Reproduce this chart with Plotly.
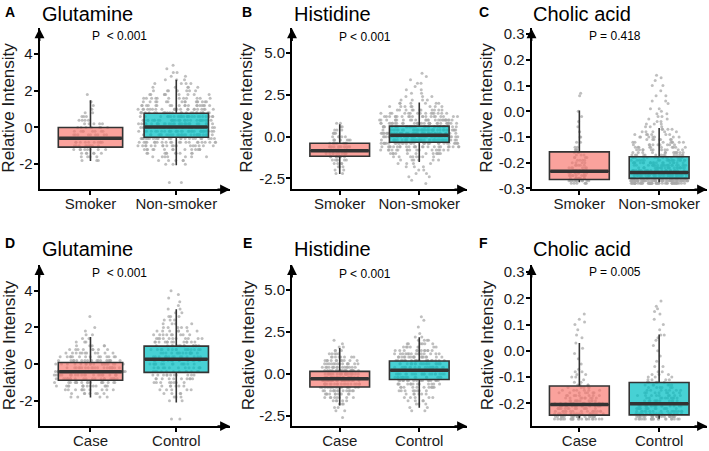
import plotly.graph_objects as go

W, H = 709, 451

# ---------------- data ----------------
titles = ["Glutamine", "Histidine", "Cholic acid", "Glutamine", "Histidine", "Cholic acid"]
letters = ["A", "B", "C", "D", "E", "F"]
pvalues = ["P\u00a0\u00a0< 0.001", "P < 0.001", "P = 0.418",
           "P\u00a0\u00a0< 0.001", "P < 0.001", "P = 0.005"]
groups_top = ["Smoker", "Non-smoker"]
groups_bottom = ["Case", "Control"]

# box statistics per panel: [group 1, group 2]
box_lower = [[-1.83, -2.06], [-2.24, -1.52], [-0.276, -0.276],
             [-1.82, -2.09], [-1.88, -2.02], [-0.257, -0.259]]
box_q1 = [[-1.07, -0.53], [-1.17, -0.33], [-0.265, -0.261],
          [-0.88, -0.45], [-0.78, -0.33], [-0.245, -0.244]]
box_median = [[-0.59, 0.02], [-0.84, 0.08], [-0.233, -0.238],
              [-0.41, 0.27], [-0.29, 0.21], [-0.205, -0.202]]
box_q3 = [[0.0, 0.78], [-0.39, 0.63], [-0.158, -0.177],
          [0.09, 0.98], [0.15, 0.77], [-0.134, -0.121]]
box_upper = [[1.49, 2.61], [0.74, 2.05], [0.003, -0.065],
             [1.48, 2.99], [1.55, 2.19], [0.03, 0.0625]]

# individual points, read as value levels with counts
a_smoker_vals = [1.8, 1.4, 1.2, 1.0, 0.8, 0.6, 0.4, 0.2, 0.0, -0.2, -0.4, -0.6, -0.8, -1.0, -1.2, -1.4, -1.6, -1.8]
a_smoker_cnts = [1, 1, 1, 1, 2, 3, 4, 5, 7, 8, 9, 10, 10, 9, 8, 6, 4, 3]
a_non_vals = [3.4, 3.2, 3.0, 2.8, 2.6, 2.4, 2.2, 2.0, 1.8, 1.6, 1.4, 1.2, 1.0, 0.8, 0.6, 0.4, 0.2, 0.0,
              -0.2, -0.4, -0.6, -0.8, -1.0, -1.2, -1.4, -1.6, -1.8, -2.0, -3.0]
a_non_cnts = [1, 1, 2, 2, 3, 4, 5, 7, 9, 12, 15, 19, 22, 25, 27, 29, 30, 31,
              30, 28, 25, 22, 18, 14, 10, 7, 5, 3, 2]

b_smoker_vals = [0.8, 0.6, 0.4, 0.2, 0.0, -0.2, -0.4, -0.6, -0.8, -1.0, -1.2, -1.4, -1.6, -1.8, -2.0, -2.2]
b_smoker_cnts = [2, 2, 3, 4, 5, 7, 9, 11, 12, 11, 9, 6, 4, 3, 2, 2]
b_non_vals = [3.8, 3.6, 3.4, 3.2, 3.0, 2.8, 2.6, 2.4, 2.2, 2.0, 1.8, 1.6, 1.4, 1.2, 1.0, 0.8, 0.6, 0.4,
              0.2, 0.0, -0.2, -0.4, -0.6, -0.8, -1.0, -1.2, -1.4, -1.6, -1.8, -2.0, -2.2, -2.4, -2.6, -2.8]
b_non_cnts = [1, 1, 1, 2, 1, 2, 2, 3, 4, 6, 8, 11, 15, 20, 25, 30, 35, 38,
              40, 42, 38, 32, 24, 17, 12, 8, 6, 4, 3, 2, 2, 2, 1, 1]

c_smoker_vals = [0.07, 0.06, 0.00, -0.02, -0.04, -0.06, -0.08, -0.10, -0.12, -0.14, -0.15, -0.16, -0.17,
                 -0.18, -0.19, -0.20, -0.21, -0.22, -0.23, -0.24, -0.25, -0.26, -0.27, -0.28]
c_smoker_cnts = [1, 1, 1, 1, 1, 1, 1, 2, 2, 2, 3, 3, 3, 4, 4, 4, 5, 6, 7, 8, 9, 10, 12, 6]
c_non_vals = [0.14, 0.13, 0.12, 0.10, 0.08, 0.06, 0.04, 0.03, 0.01, 0.00, -0.01, -0.02, -0.03, -0.04,
              -0.05, -0.06, -0.07, -0.08, -0.09, -0.10, -0.11, -0.12, -0.13, -0.14, -0.15, -0.16,
              -0.17, -0.18, -0.19, -0.20, -0.21, -0.22, -0.23, -0.24, -0.25, -0.26, -0.27, -0.28]
c_non_cnts = [1, 1, 1, 2, 1, 2, 2, 1, 2, 1, 2, 2, 2, 2,
              3, 3, 4, 5, 6, 7, 7, 8, 9, 10, 11, 12,
              14, 16, 18, 20, 22, 24, 26, 30, 34, 45, 55, 45]

d_case_vals = [2.6, 2.0, 1.8, 1.6, 1.4, 1.2, 1.0, 0.8, 0.6, 0.4, 0.2, 0.0, -0.2, -0.4, -0.6, -0.8,
               -1.0, -1.2, -1.4, -1.6, -1.8]
d_case_cnts = [1, 1, 1, 2, 2, 3, 5, 8, 11, 14, 17, 19, 21, 22, 22, 20, 17, 14, 10, 7, 4]
d_ctrl_vals = [4.0, 3.8, 3.6, 3.4, 3.2, 3.0, 2.8, 2.6, 2.4, 2.2, 2.0, 1.8, 1.6, 1.4, 1.2, 1.0, 0.8, 0.6,
               0.4, 0.2, 0.0, -0.2, -0.4, -0.6, -0.8, -1.0, -1.2, -1.4, -1.6, -1.8, -2.0, -3.0]
d_ctrl_cnts = [1, 1, 1, 1, 1, 2, 2, 3, 3, 4, 5, 7, 9, 11, 13, 14, 15, 15,
               15, 15, 14, 13, 12, 11, 10, 8, 6, 5, 4, 3, 2, 2]

e_case_vals = [2.0, 1.8, 1.6, 1.4, 1.2, 1.0, 0.8, 0.6, 0.4, 0.2, 0.0, -0.2, -0.4, -0.6, -0.8, -1.0,
               -1.2, -1.4, -1.6, -1.8, -2.0, -2.2, -2.6]
e_case_cnts = [1, 1, 2, 3, 5, 8, 11, 14, 16, 18, 20, 21, 21, 19, 17, 14, 11, 8, 5, 3, 2, 2, 1]
e_ctrl_vals = [3.4, 3.2, 2.8, 2.4, 2.2, 2.0, 1.8, 1.6, 1.4, 1.2, 1.0, 0.8, 0.6, 0.4, 0.2, 0.0, -0.2,
               -0.4, -0.6, -0.8, -1.0, -1.2, -1.4, -1.6, -1.8, -2.0, -2.2]
e_ctrl_cnts = [1, 1, 1, 1, 2, 4, 6, 8, 11, 14, 17, 19, 20, 21, 21, 20, 18,
               16, 13, 11, 8, 6, 5, 4, 3, 2, 2]

f_case_vals = [0.14, 0.12, 0.11, 0.10, 0.08, 0.06, 0.05, 0.03, 0.01, -0.01, -0.03, -0.05, -0.07, -0.08,
               -0.09, -0.10, -0.11, -0.12, -0.13, -0.14, -0.15, -0.16, -0.17, -0.18, -0.19, -0.20,
               -0.21, -0.22, -0.23, -0.24, -0.25, -0.26]
f_case_cnts = [1, 1, 1, 1, 1, 1, 1, 1, 1, 1, 1, 1, 1, 2,
               2, 2, 1, 2, 4, 5, 6, 7, 8, 9, 10, 12,
               13, 14, 15, 18, 20, 22]
f_ctrl_vals = [0.19, 0.17, 0.16, 0.15, 0.14, 0.12, 0.10, 0.08, 0.06, 0.05, 0.04, 0.02, 0.00, -0.02, -0.04,
               -0.06, -0.08, -0.09, -0.10, -0.11, -0.12, -0.13, -0.14, -0.15, -0.16, -0.17, -0.18,
               -0.19, -0.20, -0.21, -0.22, -0.23, -0.24, -0.25, -0.26]
f_ctrl_cnts = [1, 1, 1, 1, 1, 1, 1, 1, 2, 1, 1, 1, 1, 1, 1,
               2, 2, 3, 3, 4, 5, 6, 6, 7, 8, 9, 10,
               11, 12, 13, 14, 15, 18, 22, 20]

point_levels = [[(a_smoker_vals, a_smoker_cnts), (a_non_vals, a_non_cnts)],
                [(b_smoker_vals, b_smoker_cnts), (b_non_vals, b_non_cnts)],
                [(c_smoker_vals, c_smoker_cnts), (c_non_vals, c_non_cnts)],
                [(d_case_vals, d_case_cnts), (d_ctrl_vals, d_ctrl_cnts)],
                [(e_case_vals, e_case_cnts), (e_ctrl_vals, e_ctrl_cnts)],
                [(f_case_vals, f_case_cnts), (f_ctrl_vals, f_ctrl_cnts)]]

ytick_vals = [[-2, 0, 2, 4], [-2.5, 0, 2.5, 5], [-0.3, -0.2, -0.1, 0, 0.1, 0.2, 0.3],
              [-2, 0, 2, 4], [-2.5, 0, 2.5, 5], [-0.2, -0.1, 0, 0.1, 0.2, 0.3]]
ytick_text = [["-2", "0", "2", "4"], ["-2.5", "0.0", "2.5", "5.0"],
              ["-0.3", "-0.2", "-0.1", "0.0", "0.1", "0.2", "0.3"],
              ["-2", "0", "2", "4"], ["-2.5", "0.0", "2.5", "5.0"],
              ["-0.2", "-0.1", "0.0", "0.1", "0.2", "0.3"]]

# ---------------- layout / style ----------------
y_ranges = [[-3.381, 5.403], [-3.158, 6.474], [-0.304, 0.322],
            [-3.381, 5.403], [-3.112, 6.486], [-0.287, 0.327]]
x_ranges = [[0.406, 2.626], [0.40, 2.60], [0.40, 2.60],
            [0.406, 2.626], [0.40, 2.60], [0.40, 2.60]]
col_px = [(39.5, 230.0), (292.0, 467.0), (531.5, 707.0)]
row_px = [(190.7, 26.0), (432.7, 268.0)]   # (bottom, top)
point_spread = [[0.40, 0.92], [0.40, 1.0], [0.30, 0.72],
                [0.85, 0.62], [0.50, 0.65], [0.64, 0.60]]

FONT = "Liberation Sans, Arial, sans-serif"
FILLS = ["rgba(248,118,109,0.68)", "rgba(0,191,196,0.72)"]
BOX_W = 0.75


def px_x(p):
    return p / W


def px_y(p):
    return 1 - p / H


fig = go.Figure()
annotations = []
layout_axes = {}

for i in range(6):
    row, col = divmod(i, 3)
    suffix = "" if i == 0 else str(i + 1)
    xref, yref = "x" + suffix, "y" + suffix
    cats = groups_top if row == 0 else groups_bottom

    # points
    for g in range(2):
        vals, cnts = point_levels[i][g]
        ys = []
        for v, c in zip(vals, cnts):
            ys += [v] * c
        fig.add_trace(go.Box(
            x=[g + 1] * len(ys), y=ys, xaxis=xref, yaxis=yref,
            boxpoints="all", jitter=1, pointpos=0, width=point_spread[i][g],
            fillcolor="rgba(0,0,0,0)", line=dict(width=0, color="rgba(0,0,0,0)"),
            marker=dict(size=3, color="rgba(170,170,170,0.75)"),
            whiskerwidth=0, showlegend=False, hoverinfo="skip"))

    # boxes
    for g in range(2):
        fig.add_trace(go.Box(
            x=[g + 1], q1=[box_q1[i][g]], median=[box_median[i][g]], q3=[box_q3[i][g]],
            lowerfence=[box_lower[i][g]], upperfence=[box_upper[i][g]],
            orientation="v", xaxis=xref, yaxis=yref, boxpoints=False,
            width=BOX_W, fillcolor=FILLS[g], line=dict(width=1.6, color="#333333"),
            whiskerwidth=0, showlegend=False))
        fig.add_trace(go.Scatter(
            x=[g + 1 - BOX_W / 2 + 0.01, g + 1 + BOX_W / 2 - 0.01],
            y=[box_median[i][g]] * 2, xaxis=xref, yaxis=yref, mode="lines",
            line=dict(color="#333333", width=3.5), showlegend=False, hoverinfo="skip"))

    x0, x1 = col_px[col]
    yb, yt = row_px[row]
    layout_axes["xaxis" + suffix] = dict(
        domain=[px_x(x0), px_x(x1)], range=x_ranges[i], anchor=yref,
        tickvals=[1, 2], ticktext=cats, showline=True, linecolor="black", linewidth=2,
        ticks="outside", ticklen=4, tickwidth=1.5, tickcolor="black",
        ticklabelstandoff=-4,
        showgrid=False, zeroline=False,
        tickfont=dict(family=FONT, size=15, color="#1a1a1a"))
    layout_axes["yaxis" + suffix] = dict(
        domain=[px_y(yb), px_y(yt)], range=y_ranges[i], anchor=xref,
        tickvals=ytick_vals[i], ticktext=ytick_text[i], showline=True, linecolor="black",
        linewidth=2, ticks="outside", ticklen=4, tickwidth=1.5, tickcolor="black",
        ticklabelstandoff=-2,
        showgrid=False, zeroline=False,
        tickfont=dict(family=FONT, size=15, color="#1a1a1a"))

    # axis arrows
    annotations.append(dict(x=px_x(x0), y=px_y(yt), xref="paper", yref="paper", ax=0, ay=14,
                            showarrow=True, arrowhead=2, arrowsize=1.1, arrowwidth=1.8,
                            arrowcolor="black", text=""))
    annotations.append(dict(x=px_x(x1), y=px_y(yb), xref="paper", yref="paper", ax=-14, ay=0,
                            showarrow=True, arrowhead=2, arrowsize=1.1, arrowwidth=1.8,
                            arrowcolor="black", text=""))

# text placements (pixel centres)
title_pos = [(40, 11), (292, 11), (531, 11), (40, 252), (292, 252), (531, 252)]
letter_pos = [(3, 9), (240, 9), (477, 9), (3, 245), (241, 245), (477, 245)]
p_pos = [(120, 34), (365, 35), (615, 34), (120, 276), (365, 277), (615, 275)]
ytitle_pos = [(9, 107), (247, 107), (487, 107), (9, 350), (248, 350), (487, 350)]

for i in range(6):
    tx, ty = title_pos[i]
    annotations.append(dict(x=px_x(tx), y=px_y(ty), xref="paper", yref="paper",
                            xanchor="left", yanchor="middle", showarrow=False, text=titles[i],
                            font=dict(family=FONT, size=20, color="black")))
    lx, ly = letter_pos[i]
    annotations.append(dict(x=px_x(lx), y=px_y(ly), xref="paper", yref="paper",
                            xanchor="left", yanchor="middle", showarrow=False,
                            text="<b>" + letters[i] + "</b>",
                            font=dict(family=FONT, size=14, color="black")))
    qx, qy = p_pos[i]
    annotations.append(dict(x=px_x(qx), y=px_y(qy), xref="paper", yref="paper",
                            xanchor="center", yanchor="middle", showarrow=False, text=pvalues[i],
                            font=dict(family=FONT, size=12, color="black")))
    ax_, ay_ = ytitle_pos[i]
    annotations.append(dict(x=px_x(ax_), y=px_y(ay_), xref="paper", yref="paper",
                            xanchor="center", yanchor="middle", showarrow=False,
                            text="Relative Intensity", textangle=-90,
                            font=dict(family=FONT, size=17, color="#1a1a1a")))

fig.update_layout(
    width=W, height=H, autosize=False,
    margin=dict(l=0, r=0, t=0, b=0),
    paper_bgcolor="white", plot_bgcolor="white",
    boxmode="overlay", showlegend=False,
    annotations=annotations, **layout_axes)

fig.write_html("out.html", config={"displayModeBar": False},
               post_script="document.body.style.margin='0';document.body.style.overflow='hidden';")
